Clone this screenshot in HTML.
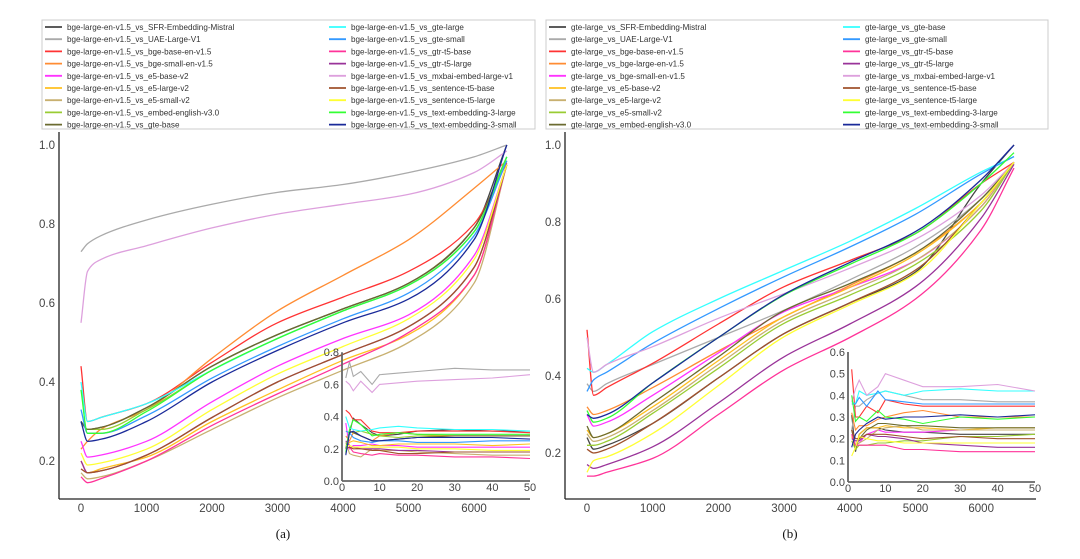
<!DOCTYPE html>
<html><head><meta charset="utf-8">
<style>
body{margin:0;background:#fff;}
svg{display:block;font-family:"Liberation Sans",sans-serif;}
</style></head>
<body>
<svg id="c" width="1080" height="559" viewBox="0 0 1080 559" xmlns="http://www.w3.org/2000/svg"></svg>
<script>
const colors=["#444444","#aaaaaa","#ff3333","#ff8c33","#ff33ff","#ffc020","#c8b070","#99cc33","#6b6b30","#33ffff","#3399ff","#ff3399","#993399","#dda0dd","#a0522d","#ffff33","#33ff33","#1a2a99"];
const namesA=["bge-large-en-v1.5_vs_SFR-Embedding-Mistral","bge-large-en-v1.5_vs_UAE-Large-V1","bge-large-en-v1.5_vs_bge-base-en-v1.5","bge-large-en-v1.5_vs_bge-small-en-v1.5","bge-large-en-v1.5_vs_e5-base-v2","bge-large-en-v1.5_vs_e5-large-v2","bge-large-en-v1.5_vs_e5-small-v2","bge-large-en-v1.5_vs_embed-english-v3.0","bge-large-en-v1.5_vs_gte-base","bge-large-en-v1.5_vs_gte-large","bge-large-en-v1.5_vs_gte-small","bge-large-en-v1.5_vs_gtr-t5-base","bge-large-en-v1.5_vs_gtr-t5-large","bge-large-en-v1.5_vs_mxbai-embed-large-v1","bge-large-en-v1.5_vs_sentence-t5-base","bge-large-en-v1.5_vs_sentence-t5-large","bge-large-en-v1.5_vs_text-embedding-3-large","bge-large-en-v1.5_vs_text-embedding-3-small"];
const namesB=["gte-large_vs_SFR-Embedding-Mistral","gte-large_vs_UAE-Large-V1","gte-large_vs_bge-base-en-v1.5","gte-large_vs_bge-large-en-v1.5","gte-large_vs_bge-small-en-v1.5","gte-large_vs_e5-base-v2","gte-large_vs_e5-large-v2","gte-large_vs_e5-small-v2","gte-large_vs_embed-english-v3.0","gte-large_vs_gte-base","gte-large_vs_gte-small","gte-large_vs_gtr-t5-base","gte-large_vs_gtr-t5-large","gte-large_vs_mxbai-embed-large-v1","gte-large_vs_sentence-t5-base","gte-large_vs_sentence-t5-large","gte-large_vs_text-embedding-3-large","gte-large_vs_text-embedding-3-small"];
const mainX=[0,100,300,1000,2000,3000,4000,5000,6000,6500];
const insetX=[1,2,3,5,8,10,15,20,30,40,50];
const mainA=[
[0.30,0.28,0.285,0.335,0.44,0.52,0.585,0.65,0.79,1.0],
[0.73,0.75,0.77,0.81,0.85,0.88,0.90,0.93,0.97,1.0],
[0.44,0.30,0.31,0.345,0.45,0.55,0.615,0.68,0.80,0.955],
[0.23,0.25,0.28,0.33,0.46,0.58,0.67,0.76,0.89,0.96],
[0.25,0.21,0.215,0.25,0.35,0.44,0.51,0.57,0.72,0.95],
[0.20,0.17,0.18,0.21,0.30,0.38,0.455,0.52,0.67,0.95],
[0.17,0.155,0.16,0.20,0.28,0.36,0.43,0.50,0.65,0.95],
[0.30,0.28,0.28,0.33,0.43,0.51,0.58,0.645,0.78,0.96],
[0.30,0.28,0.285,0.335,0.44,0.52,0.585,0.65,0.79,0.97],
[0.40,0.30,0.31,0.345,0.43,0.51,0.58,0.645,0.78,0.97],
[0.33,0.27,0.27,0.315,0.41,0.49,0.56,0.625,0.77,0.96],
[0.16,0.145,0.155,0.20,0.29,0.37,0.445,0.525,0.67,0.95],
[0.20,0.17,0.175,0.215,0.31,0.40,0.47,0.54,0.69,0.95],
[0.55,0.68,0.71,0.745,0.79,0.825,0.85,0.875,0.93,0.985],
[0.18,0.17,0.175,0.215,0.31,0.40,0.47,0.54,0.69,0.95],
[0.22,0.19,0.195,0.23,0.33,0.42,0.49,0.56,0.71,0.95],
[0.38,0.27,0.27,0.325,0.43,0.51,0.58,0.645,0.78,0.97],
[0.30,0.25,0.255,0.30,0.40,0.48,0.55,0.61,0.76,1.0]];
const insetA=[
[0.17,0.30,0.39,0.35,0.30,0.28,0.29,0.31,0.32,0.31,0.31],
[0.64,0.74,0.65,0.68,0.60,0.66,0.67,0.68,0.70,0.69,0.69],
[0.44,0.42,0.38,0.38,0.31,0.30,0.30,0.31,0.31,0.31,0.30],
[0.28,0.25,0.30,0.28,0.25,0.28,0.30,0.29,0.28,0.28,0.28],
[0.36,0.20,0.22,0.22,0.23,0.22,0.22,0.21,0.21,0.21,0.21],
[0.22,0.24,0.25,0.24,0.22,0.22,0.23,0.23,0.23,0.22,0.23],
[0.24,0.17,0.16,0.15,0.20,0.19,0.19,0.18,0.17,0.16,0.16],
[0.17,0.31,0.30,0.31,0.29,0.28,0.27,0.28,0.28,0.28,0.28],
[0.20,0.31,0.30,0.28,0.25,0.25,0.26,0.27,0.28,0.28,0.28],
[0.40,0.33,0.32,0.31,0.32,0.33,0.34,0.33,0.32,0.32,0.31],
[0.31,0.30,0.27,0.25,0.24,0.25,0.25,0.24,0.24,0.25,0.25],
[0.20,0.21,0.18,0.17,0.16,0.17,0.16,0.16,0.15,0.15,0.14],
[0.25,0.22,0.21,0.20,0.20,0.20,0.19,0.19,0.18,0.18,0.18],
[0.62,0.60,0.56,0.62,0.55,0.60,0.61,0.62,0.63,0.64,0.66],
[0.20,0.21,0.20,0.20,0.19,0.19,0.17,0.17,0.18,0.18,0.18],
[0.22,0.22,0.21,0.21,0.21,0.21,0.21,0.20,0.20,0.19,0.19],
[0.18,0.32,0.38,0.35,0.28,0.29,0.30,0.29,0.29,0.29,0.29],
[0.16,0.30,0.31,0.28,0.25,0.25,0.26,0.27,0.27,0.27,0.26]];
const mainB=[
[0.24,0.21,0.22,0.277,0.395,0.51,0.59,0.67,0.90,1.0],
[0.38,0.36,0.38,0.43,0.50,0.571,0.65,0.735,0.86,0.955],
[0.52,0.35,0.37,0.433,0.535,0.632,0.70,0.77,0.90,0.955],
[0.32,0.30,0.31,0.37,0.465,0.554,0.635,0.72,0.85,0.955],
[0.30,0.27,0.28,0.35,0.46,0.567,0.63,0.70,0.84,0.955],
[0.26,0.24,0.25,0.32,0.44,0.554,0.63,0.715,0.85,0.955],
[0.25,0.23,0.24,0.31,0.43,0.545,0.62,0.70,0.84,0.955],
[0.22,0.22,0.23,0.303,0.42,0.537,0.61,0.69,0.83,0.955],
[0.27,0.24,0.25,0.33,0.45,0.57,0.64,0.72,0.86,0.955],
[0.42,0.41,0.43,0.515,0.60,0.675,0.75,0.835,0.93,0.97],
[0.36,0.39,0.41,0.485,0.575,0.658,0.735,0.82,0.925,0.97],
[0.14,0.14,0.15,0.186,0.30,0.416,0.50,0.60,0.78,0.94],
[0.17,0.16,0.17,0.216,0.33,0.45,0.535,0.632,0.81,0.95],
[0.50,0.41,0.43,0.476,0.55,0.614,0.68,0.755,0.87,0.955],
[0.21,0.20,0.21,0.277,0.395,0.51,0.59,0.675,0.85,0.955],
[0.15,0.18,0.19,0.251,0.375,0.502,0.585,0.666,0.85,0.955],
[0.31,0.28,0.29,0.382,0.50,0.61,0.69,0.77,0.90,0.98],
[0.30,0.29,0.30,0.382,0.50,0.612,0.695,0.775,0.91,1.0]];
const insetB=[
[0.31,0.14,0.22,0.25,0.25,0.24,0.23,0.23,0.22,0.22,0.22],
[0.24,0.35,0.35,0.38,0.41,0.42,0.40,0.38,0.38,0.37,0.37],
[0.52,0.30,0.30,0.35,0.32,0.38,0.36,0.35,0.35,0.35,0.35],
[0.32,0.24,0.26,0.26,0.29,0.30,0.32,0.33,0.30,0.30,0.30],
[0.22,0.17,0.18,0.22,0.24,0.23,0.23,0.23,0.24,0.24,0.24],
[0.21,0.16,0.22,0.25,0.25,0.26,0.25,0.25,0.24,0.25,0.25],
[0.24,0.17,0.18,0.20,0.24,0.25,0.26,0.24,0.24,0.24,0.24],
[0.19,0.15,0.17,0.17,0.18,0.18,0.19,0.19,0.21,0.21,0.22],
[0.24,0.16,0.20,0.24,0.27,0.27,0.26,0.26,0.25,0.25,0.25],
[0.37,0.36,0.42,0.40,0.41,0.42,0.40,0.42,0.43,0.42,0.42],
[0.36,0.36,0.39,0.35,0.42,0.38,0.37,0.36,0.36,0.36,0.36],
[0.22,0.17,0.17,0.17,0.17,0.17,0.15,0.15,0.14,0.14,0.14],
[0.20,0.19,0.19,0.22,0.21,0.21,0.20,0.18,0.17,0.16,0.16],
[0.37,0.43,0.47,0.40,0.44,0.50,0.47,0.44,0.44,0.45,0.42],
[0.24,0.20,0.20,0.22,0.22,0.22,0.21,0.20,0.21,0.20,0.20],
[0.12,0.16,0.21,0.20,0.19,0.19,0.18,0.18,0.18,0.18,0.18],
[0.40,0.28,0.30,0.28,0.33,0.30,0.29,0.27,0.30,0.29,0.30],
[0.16,0.22,0.24,0.27,0.30,0.29,0.30,0.30,0.31,0.30,0.31]];
const mainXTicks=[0,1000,2000,3000,4000,5000,6000];
const mainYTicks=[0.2,0.4,0.6,0.8,1.0];
const insetXTicks=[0,10,20,30,40,50];
const insetYTicksA=[0.0,0.2,0.4,0.6,0.8];
const insetYTicksB=[0.0,0.1,0.2,0.3,0.4,0.5,0.6];

const NS="http://www.w3.org/2000/svg";
const svg=document.getElementById('c');
function mk(tag,attrs,parent){const e=document.createElementNS(NS,tag);for(const k in attrs)e.setAttribute(k,attrs[k]);(parent||svg).appendChild(e);return e;}
// monotone cubic (Fritsch-Carlson) in pixel space, x-aware
function monoPath(p){
  const n=p.length, d=[], m=new Array(n);
  for(let i=0;i<n-1;i++) d.push((p[i+1][1]-p[i][1])/(p[i+1][0]-p[i][0]));
  m[0]=d[0]; m[n-1]=d[n-2];
  for(let i=1;i<n-1;i++){
    if(d[i-1]*d[i]<=0) m[i]=0;
    else{const h0=p[i][0]-p[i-1][0],h1=p[i+1][0]-p[i][0];
      m[i]=3*(h0+h1)/((2*h1+h0)/d[i-1]+(h1+2*h0)/d[i]);}
  }
  let s='M'+p[0][0].toFixed(1)+','+p[0][1].toFixed(1);
  for(let i=0;i<n-1;i++){
    const h=(p[i+1][0]-p[i][0])/3;
    s+=' C'+(p[i][0]+h).toFixed(1)+','+(p[i][1]+m[i]*h).toFixed(1)+' '+(p[i+1][0]-h).toFixed(1)+','+(p[i+1][1]-m[i+1]*h).toFixed(1)+' '+p[i+1][0].toFixed(1)+','+p[i+1][1].toFixed(1);
  }
  return s;
}

function panel(id,cfg){
  const g=mk('g',{});
  
  
  const lg=mk('g',{},g);
  
  
  mk('rect',{x:cfg.lx,y:20,width:cfg.lw,height:109,fill:'#fff',stroke:'#ccc','stroke-width':1},lg);
  cfg.names.forEach((n,i)=>{
    const col=i<9?0:1, row=i%9;
    const x0=cfg.lx+3+col*cfg.colw, y=27+row*12.2;
    const en=mk('g',{},lg);
    
    
    mk('line',{x1:x0,y1:y,x2:x0+17,y2:y,stroke:colors[i],'stroke-width':1.8},en);
    const t=mk('text',{x:x0+22,y:y+3,'font-size':8.1,fill:'#333'},en);
    t.textContent=n;
  });
  const X=x=>cfg.x0+x*cfg.kx, Y=v=>cfg.y1+(1-v)*cfg.ky;
  const ax=mk('g',{},g);
  
  
  mk('line',{x1:cfg.sx,y1:132,x2:cfg.sx,y2:499,stroke:'#222','stroke-width':1.3},ax);
  mk('line',{x1:cfg.sx,y1:499,x2:cfg.ex,y2:499,stroke:'#222','stroke-width':1.3},ax);
  mainXTicks.forEach(t=>{const tx=mk('text',{x:X(t),y:512,'font-size':11.5,fill:'#444','text-anchor':'middle'},ax);tx.textContent=String(t);
    });
  mainYTicks.forEach(t=>{const tx=mk('text',{x:cfg.sx-4,y:Y(t)+4,'font-size':11.5,fill:'#444','text-anchor':'end'},ax);tx.textContent=t.toFixed(1);
    });
  cfg.main.forEach((s,i)=>{
    const p=mk('path',{d:monoPath(s.map((v,j)=>[X(mainX[j]),Y(v)])),fill:'none',stroke:colors[i],'stroke-width':1.3},ax);
    
    
  });
  const IX=n=>cfg.ix0+n*cfg.ikx, IY=v=>cfg.iy0-v*cfg.iky;
  const ia=mk('g',{},g);
  
  
  cfg.inset.forEach((s,i)=>{
    const p=mk('polyline',{points:s.map((v,j)=>IX(insetX[j]).toFixed(1)+','+IY(v).toFixed(1)).join(' '),fill:'none',stroke:colors[i],'stroke-width':1.1},ia);
    
    
  });
  const ytop=IY(cfg.iyt[cfg.iyt.length-1]);
  mk('line',{x1:cfg.ix0,y1:ytop,x2:cfg.ix0,y2:cfg.iy0,stroke:'#666','stroke-width':1.8},ia);
  mk('line',{x1:cfg.ix0,y1:cfg.iy0,x2:IX(50),y2:cfg.iy0,stroke:'#666','stroke-width':1.8},ia);
  insetXTicks.forEach(t=>{const tx=mk('text',{x:IX(t),y:cfg.iy0+10,'font-size':11,fill:'#444','text-anchor':'middle'},ia);tx.textContent=String(t);
    });
  cfg.iyt.forEach(t=>{const tx=mk('text',{x:cfg.ix0-3,y:IY(t)+4,'font-size':11,fill:'#444','text-anchor':'end'},ia);tx.textContent=t.toFixed(1);
    });
  const cap=mk('text',{x:cfg.capx,y:538,'font-size':13,fill:'#111','text-anchor':'middle','font-family':'Liberation Serif, serif'},g);
  cap.textContent=cfg.cap;
  
  
}
panel('panel-a',{names:namesA,lx:42,lw:493,colw:284,main:mainA,inset:insetA,x0:81,kx:0.0655,y1:145,ky:395,sx:59,ex:530,
  ix0:342,ikx:188/50,iy0:481,iky:161,iyt:insetYTicksA,capx:283,cap:'(a)'});
panel('panel-b',{names:namesB,lx:546,lw:502,colw:294,main:mainB,inset:insetB,x0:587,kx:0.0657,y1:145,ky:385,sx:565,ex:1036,
  ix0:848,ikx:187/50,iy0:482,iky:130/0.6,iyt:insetYTicksB,capx:790,cap:'(b)'});
</script>
</body></html>
